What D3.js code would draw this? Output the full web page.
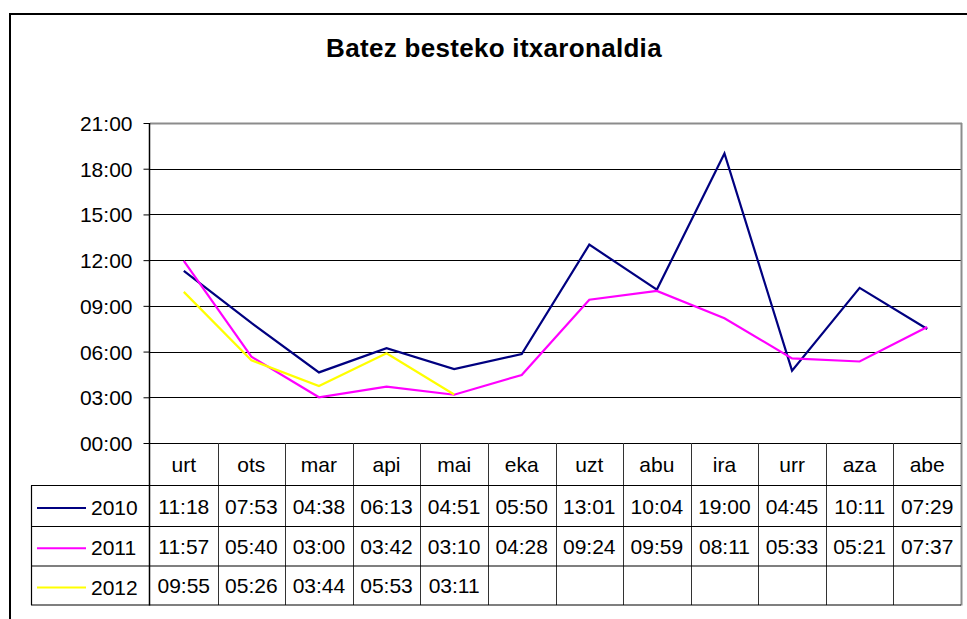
<!DOCTYPE html>
<html>
<head>
<meta charset="utf-8">
<script src="https://cdn.jsdelivr.net/npm/d3@7"></script>
<style>
  html, body { margin: 0; padding: 0; background: #fff; }
  svg { display: block; font-family: "Liberation Sans", Arial, sans-serif; }
</style>
</head>
<body>
<svg id="chart" width="967" height="619"></svg>
<script>
const title = "Batez besteko itxaronaldia";
const months = ["urt","ots","mar","api","mai","eka","uzt","abu","ira","urr","aza","abe"];
const seriesNames = ["2010","2011","2012"];
const values2010 = ["11:18","07:53","04:38","06:13","04:51","05:50","13:01","10:04","19:00","04:45","10:11","07:29"];
const values2011 = ["11:57","05:40","03:00","03:42","03:10","04:28","09:24","09:59","08:11","05:33","05:21","07:37"];
const values2012 = ["09:55","05:26","03:44","05:53","03:11",null,null,null,null,null,null,null];
const tickLabels = ["00:00","03:00","06:00","09:00","12:00","15:00","18:00","21:00"];
const colors = ["#000080","#FF00FF","#FFFF00"];

const toMin = s => { if (s == null) return null; const [h, m] = s.split(":").map(Number); return h * 60 + m; };
const series = [values2010, values2011, values2012].map((v, i) => ({ name: seriesNames[i], color: colors[i], raw: v, mins: v.map(toMin) }));

const svg = d3.select("#chart");
const L = 150, R = 961, T = 123, B = 443;
const rowTops = [485.5, 526.5, 566, 605];

// outer chart border
svg.append("rect").attr("x", 10).attr("y", 14).attr("width", 1200).attr("height", 1200)
  .attr("fill", "none").attr("stroke", "#000").attr("stroke-width", 2);

// title
svg.append("text").attr("x", 494).attr("y", 56.5).attr("text-anchor", "middle")
  .attr("font-size", 26).attr("font-weight", "bold").attr("letter-spacing", 0.3).text(title);

const x = d3.scaleBand().domain(months).range([L, R]);
const y = d3.scaleLinear().domain([0, 21 * 60]).range([B, T]);
const tickVals = tickLabels.map(toMin);

// gridlines
svg.append("g").selectAll("line").data(tickVals.filter(v => v > 0 && v < 1260)).join("line")
  .attr("x1", L).attr("x2", R).attr("y1", d => Math.round(y(d)) + 0.5).attr("y2", d => Math.round(y(d)) + 0.5)
  .attr("stroke", "#000").attr("stroke-width", 1);

// plot border top/right (grey)
svg.append("line").attr("x1", L).attr("x2", R + 1).attr("y1", T + 0.5).attr("y2", T + 0.5)
  .attr("stroke", "#8c8c8c").attr("stroke-width", 2);
svg.append("line").attr("x1", R + 0.5).attr("x2", R + 0.5).attr("y1", T).attr("y2", rowTops[3] + 0.5)
  .attr("stroke", "#8c8c8c").attr("stroke-width", 2);

// y axis
const yAxis = d3.axisLeft(y).tickValues(tickVals).tickSize(6).tickPadding(11)
  .tickFormat((d, i) => tickLabels[i]);
const gy = svg.append("g").attr("transform", `translate(${L - 0.5},0)`).call(yAxis);
gy.select(".domain").remove();
gy.selectAll(".tick line").attr("stroke", "#000");
gy.selectAll(".tick text").attr("font-size", 21).attr("fill", "#000")
  .attr("font-family", "Liberation Sans, Arial, sans-serif").attr("dy", "0.36em");
svg.append("line").attr("x1", L - 0.5).attr("x2", L - 0.5).attr("y1", T).attr("y2", rowTops[3] + 0.5)
  .attr("stroke", "#000").attr("stroke-width", 1.5);
// x axis baseline
svg.append("line").attr("x1", L - 6).attr("x2", R).attr("y1", B + 0.5).attr("y2", B + 0.5)
  .attr("stroke", "#000").attr("stroke-width", 1);

// data table
const tg = svg.append("g");
tg.selectAll("line.col").data(months.slice(1)).join("line").attr("class", "col")
  .attr("x1", d => Math.round(x(d)) + 0.5).attr("x2", d => Math.round(x(d)) + 0.5)
  .attr("y1", B).attr("y2", rowTops[3])
  .attr("stroke", "#333").attr("stroke-width", 1);
tg.selectAll("line.row").data(rowTops).join("line").attr("class", "row")
  .attr("x1", 31).attr("x2", R).attr("y1", d => d).attr("y2", d => d)
  .attr("stroke", "#000").attr("stroke-width", 1.2);
tg.append("line").attr("x1", 31.5).attr("x2", 31.5).attr("y1", rowTops[0]).attr("y2", rowTops[3])
  .attr("stroke", "#000").attr("stroke-width", 1.2);

// header labels
tg.selectAll("text.month").data(months).join("text").attr("class", "month")
  .attr("x", d => x(d) + x.bandwidth() / 2).attr("y", (B + rowTops[0]) / 2 + 7.5)
  .attr("text-anchor", "middle").attr("font-size", 21).text(d => d);

// series rows
series.forEach((s, i) => {
  const top = rowTops[i], bot = rowTops[i + 1], cy = (top + bot) / 2;
  tg.append("line").attr("x1", 37).attr("x2", 86).attr("y1", cy + 2).attr("y2", cy + 2)
    .attr("stroke", s.color).attr("stroke-width", 2);
  tg.append("text").attr("x", 91).attr("y", cy + 9).attr("font-size", 21).text(s.name);
  tg.selectAll(null).data(s.raw.map((v, j) => ({ v, m: months[j] })).filter(d => d.v != null)).join("text")
    .attr("x", d => x(d.m) + x.bandwidth() / 2).attr("y", cy + 7.5)
    .attr("text-anchor", "middle").attr("font-size", 21).text(d => d.v);
});

// lines
const line = d3.line().defined(d => d.v != null)
  .x(d => x(d.m) + x.bandwidth() / 2).y(d => y(d.v));
svg.append("g").selectAll("path").data(series).join("path")
  .attr("d", s => line(s.mins.map((v, j) => ({ v, m: months[j] }))))
  .attr("fill", "none").attr("stroke", s => s.color).attr("stroke-width", 2.2)
  .attr("stroke-linejoin", "miter");
</script>
</body>
</html>
